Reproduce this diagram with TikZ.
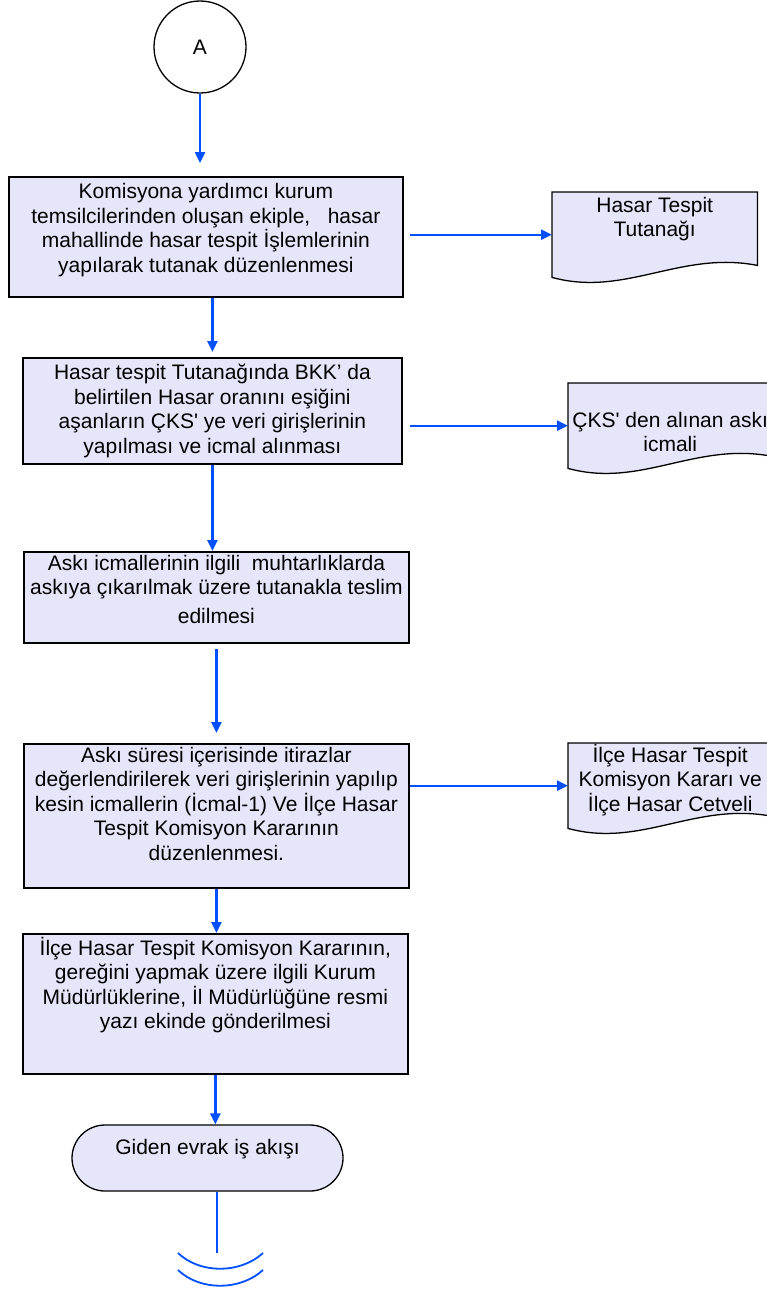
\documentclass[tikz,border=0pt]{standalone}
\usepackage{fontspec}
\setmainfont{Liberation Sans}
\usetikzlibrary{arrows.meta,backgrounds}
\definecolor{lav}{RGB}{230,230,250}
\definecolor{flowblue}{RGB}{0,80,255}
\begin{document}
\begin{tikzpicture}[x=1pt, y=-1pt,
  every node/.style={font=\fontsize{21}{24.5}\selectfont},
  proc/.style={draw=black, line width=1.8pt, fill=lav, align=center, inner sep=1pt, anchor=north west},
  docu/.style={align=center, inner sep=0pt, minimum width=204pt, minimum height=85pt, anchor=north west},
  conn/.style={circle, draw=black, line width=1.3pt, fill=white, minimum size=92pt, inner sep=0pt},
  term/.style={rectangle, rounded corners=33pt, draw=black, line width=1.3pt, fill=lav, minimum width=271pt, minimum height=66pt},
  flow/.style={draw=flowblue, line width=2.4pt, -{Triangle[length=11pt,width=10pt]}},
  tailline/.style={draw=flowblue, line width=1.8pt}]

\useasboundingbox (0,0) rectangle (767,1290);

\node[conn] (A) at (200,47) {A};

\node[proc, minimum width=394pt, minimum height=120pt, text depth=18pt] (box1) at (8,176)
  {Komisyona yardımcı kurum\\temsilcilerinden oluşan ekiple,\ \ \ hasar\\mahallinde\ hasar tespit İşlemlerinin\\yapılarak tutanak düzenlenmesi};
\node[proc, minimum width=379pt, minimum height=106pt] (box2) at (22,357)
  {Hasar tespit Tutanağında BKK’ da\\belirtilen\ Hasar oranını eşiğini\\aşanların ÇKS\textquotesingle\ ye veri girişlerinin\\yapılması\ ve icmal alınması};
\node[proc, minimum width=385pt, minimum height=91pt, text depth=17pt] (box3) at (23,551)
  {Askı icmallerinin ilgili\ \ muhtarlıklarda\\askıya çıkarılmak\ üzere tutanakla teslim\\[4pt]edilmesi};
\node[proc, minimum width=385pt, minimum height=144pt, text depth=25pt] (box4) at (23,743)
  {Askı süresi içerisinde itirazlar\\değerlendirilerek veri girişlerinin yapılıp\\kesin icmallerin\ (İcmal-1) Ve İlçe Hasar\\Tespit Komisyon Kararının\\düzenlenmesi.};
\node[proc, minimum width=385pt, minimum height=140pt, text depth=42pt] (box5) at (22,933)
  {İlçe\ Hasar Tespit Komisyon Kararının,\\gereğini yapmak üzere ilgili\ Kurum\\Müdürlüklerine,\ İl Müdürlüğüne resmi\\yazı ekinde gönderilmesi};
\node[term, text depth=22pt] (term) at (207.5,1158) {Giden evrak iş akışı};

\node[docu, minimum width=205pt, text depth=36pt] (doc1) at (552,192) {Hasar Tespit\\Tutanağı};
\node[docu, text height=52pt] (doc2) at (568,383) {ÇKS\textquotesingle\ den alınan askı\\icmali};
\node[docu, text depth=16pt] (doc3) at (568,743) {İlçe Hasar Tespit\\Komisyon Kararı ve\\İlçe Hasar Cetveli};

\begin{scope}[on background layer]
\foreach \n in {doc1,doc2,doc3}
  \draw[line width=1.3pt, fill=lav] (\n.south west) .. controls +(73,20) and +(-77,-15) .. ([yshift=12pt]\n.south east) -- (\n.north east) -- (\n.north west) -- cycle;
\end{scope}

\draw[flow, shorten >=13pt] (A) -- (A |- box1.north);
\draw[flow, shorten >=5pt] (box2.north |- box1.south) -- (box2.north);
\draw[flow] (box2.south) -- (box2.south |- box3.north);
\draw[flow, shorten <=5pt, shorten >=10pt] (box3.south) -- (box3.south |- box4.north);
\draw[flow] (box4.south) -- (box4.south |- box5.north);
\draw[flow] (box5.south) -- (box5.south |- term.north);

\draw[flow, shorten <=6pt] (box1.east |- doc1.west) -- (doc1.west);
\draw[flow, shorten <=7pt] (box2.east |- doc2.west) -- (doc2.west);
\draw[flow] (box4.east |- doc3.west) -- (doc3.west);

\coordinate (tail) at (217,1253);
\draw[tailline] (term.south -| tail) -- (tail);
\foreach \dy in {0,17}
  \draw[tailline] (178,1253+\dy) .. controls (200,1274+\dy) and (240,1274+\dy) .. (263,1253+\dy);
\end{tikzpicture}
\end{document}
